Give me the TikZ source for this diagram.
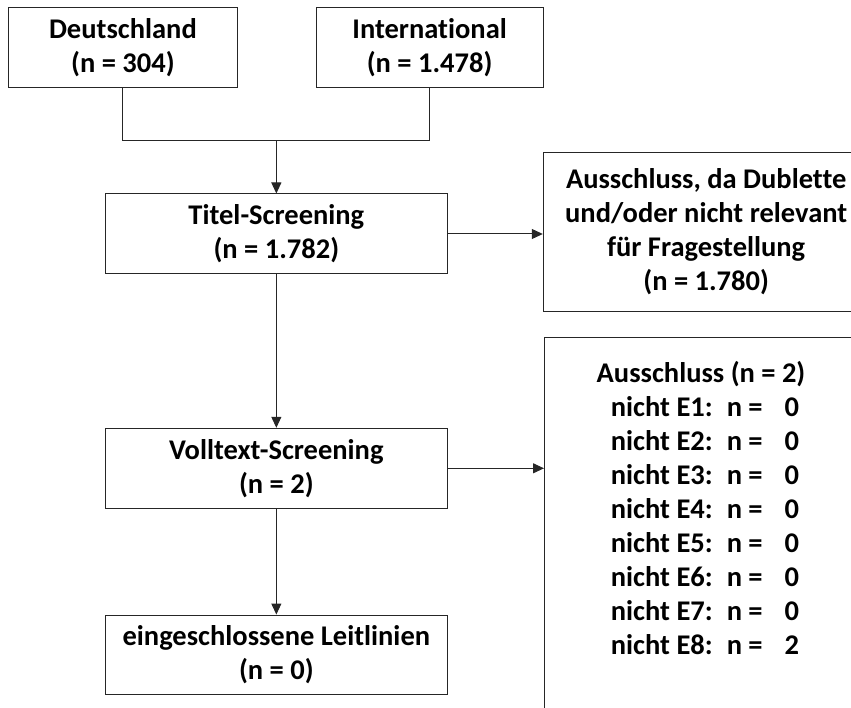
\documentclass[tikz,border=0pt]{standalone}
\usepackage{fontspec}
\setmainfont{Carlito}[Ligatures={NoCommon,NoRare}]
\usetikzlibrary{arrows.meta}
\begin{document}
\begin{tikzpicture}[x=1pt,y=-1pt,
  box/.style={draw=black!85, line width=1pt, rectangle, align=center, inner sep=0pt,
    font=\bfseries\fontsize{28.5}{34}\selectfont},
  txt/.style={inner sep=0pt, font=\bfseries\fontsize{28.5}{34}\selectfont},
  conn/.style={draw=black!85, line width=1pt},
  arr/.style={conn, -{Triangle[length=11pt,width=10pt]}}]
\useasboundingbox (0,0) rectangle (851,708);
\node[box, minimum width=228.3pt, minimum height=80pt] (de) at (122.9,48) {Deutschland\\(n = 304)};
\node[box, minimum width=227pt, minimum height=80pt] (int) at (429.6,48) {International\\(n = 1.478)};
\node[box, minimum width=341.3pt, minimum height=80pt] (titel) at (276.35,234) {Titel-Screening\\(n = 1.782)};
\node[box, minimum width=325.7pt, minimum height=159.4pt] (ex1) at (706.15,232) {Ausschluss, da Dublette\\und/oder nicht relevant\\für Fragestellung\\(n = 1.780)};
\node[box, minimum width=341.3pt, minimum height=80pt] (voll) at (276.35,468.3) {Volltext-Screening\\(n = 2)};
\node[box, minimum width=341.3pt, minimum height=79.3pt] (eing) at (276.35,654.7) {eingeschlossene Leitlinien\\(n = 0)};
\node[box, minimum width=325pt, minimum height=420pt, anchor=north west] (ex2) at (544,337) {};
\node[txt] (ex2t) at (705,512) {\begin{tabular}{@{}l@{\hspace{14pt}}l@{\hspace{22pt}}r@{}}
\multicolumn{3}{c}{\makebox[0pt]{\hspace*{-8pt}Ausschluss (n = 2)}}\\
nicht E1: & n = & 0\\
nicht E2: & n = & 0\\
nicht E3: & n = & 0\\
nicht E4: & n = & 0\\
nicht E5: & n = & 0\\
nicht E6: & n = & 0\\
nicht E7: & n = & 0\\
nicht E8: & n = & 2
\end{tabular}};
\coordinate (j) at (276.35,140.7);
\draw[conn] (de.south) -- (de.south |- j) -- (int.south |- j) -- (int.south);
\draw[arr] (j) -- (titel.north);
\draw[arr] (titel.east) -- (titel.east -| ex1.west);
\draw[arr] (titel.south) -- (voll.north);
\draw[arr] (voll.east) -- (voll.east -| ex2.west);
\draw[arr] (voll.south) -- (eing.north);
\end{tikzpicture}
\end{document}
